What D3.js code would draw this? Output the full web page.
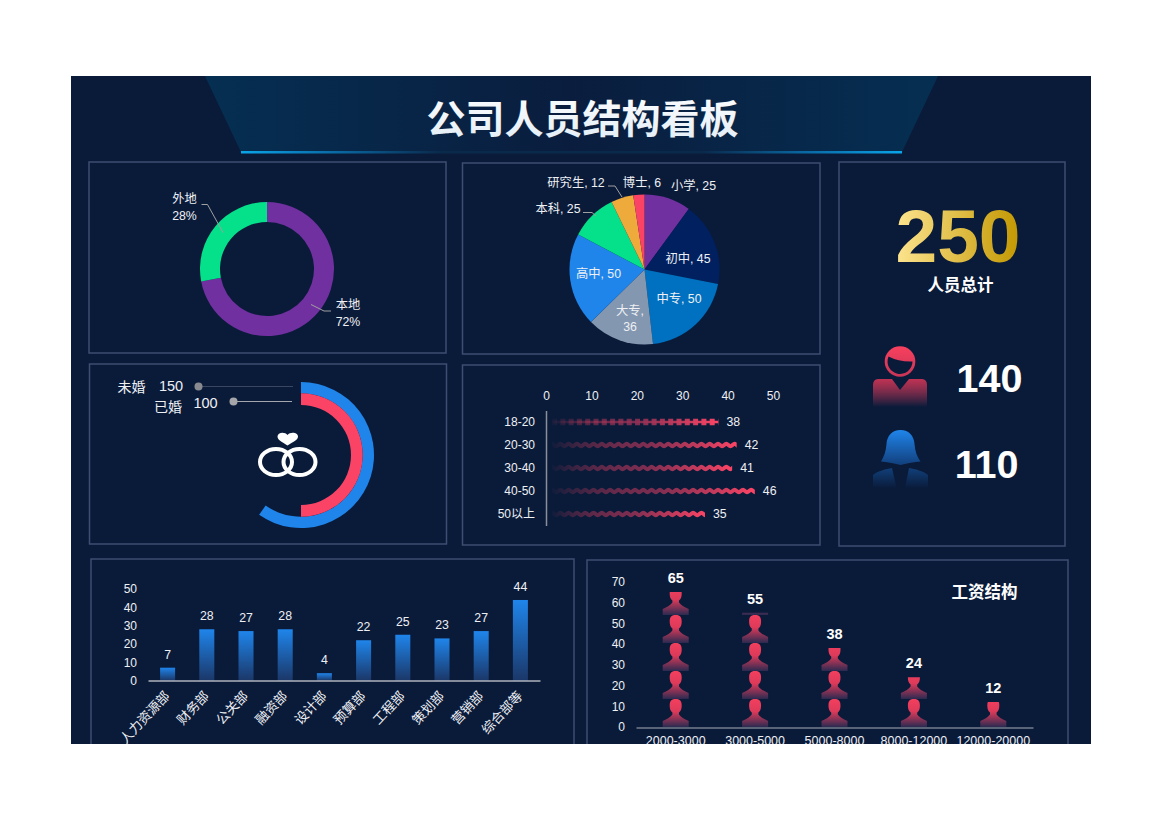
<!DOCTYPE html>
<html>
<head>
<meta charset="utf-8">
<script src="https://cdn.jsdelivr.net/npm/d3@7"></script>
<style>
  html, body { margin: 0; padding: 0; background: #fff; }
  svg { display: block; }
  text { font-family: "Liberation Sans", "Noto Sans CJK SC", sans-serif; fill: #eef0f4; }
  .axis text { font-size: 12px; fill: #eef0f4; }
</style>
</head>
<body>
<div class="div-chart"></div>
<script>
// chart values
const originNames = ["本地", "外地"];
const originValues = [72, 28];

const eduNames = ["小学", "初中", "中专", "大专", "高中", "本科", "研究生", "博士"];
const eduValues = [25, 45, 50, 36, 50, 25, 12, 6];
const eduColors = ["#7030a0", "#002060", "#0070c0", "#8497b0", "#1f85eb", "#05e08a", "#eeab3c", "#fb4465"];

const marriageNames = ["未婚", "已婚"];
const marriageValues = [150, 100];

const ageNames = ["18-20", "20-30", "30-40", "40-50", "50以上"];
const ageValues = [38, 42, 41, 46, 35];

const totalPeople = 250;
const maleCount = 140;
const femaleCount = 110;

const deptNames = ["人力资源部", "财务部", "公关部", "融资部", "设计部", "预算部", "工程部", "策划部", "营销部", "综合部等"];
const deptValues = [7, 28, 27, 28, 4, 22, 25, 23, 27, 44];

const salaryNames = ["2000-3000", "3000-5000", "5000-8000", "8000-12000", "12000-20000"];
const salaryValues = [65, 55, 38, 24, 12];

const width = 1170,
  height = 827;

const svg = d3
  .select(".div-chart")
  .append("svg")
  .attr("width", width)
  .attr("height", height)
  .attr("viewBox", `0 0 ${width} ${height}`);

const defs = svg.append("defs");

function linearGradient(id, x1, y1, x2, y2, stops, userSpace) {
  const g = defs
    .append("linearGradient")
    .attr("id", id)
    .attr("x1", x1)
    .attr("y1", y1)
    .attr("x2", x2)
    .attr("y2", y2);
  if (userSpace) g.attr("gradientUnits", "userSpaceOnUse");
  stops.forEach((s) => {
    g.append("stop")
      .attr("offset", s[0])
      .attr("stop-color", s[1])
      .attr("stop-opacity", s[2] === undefined ? 1 : s[2]);
  });
}

linearGradient("banner-grad", 0, 0, 1, 0, [[0, "#052f52"], [0.5, "#0a1d3e"], [1, "#052f52"]]);
linearGradient("banner-line", 0, 0, 1, 0, [[0, "#0aa5ea"], [0.14, "#0a6ba6"], [0.3, "#0a2a4c"], [0.7, "#0a2a4c"], [0.86, "#0a6ba6"], [1, "#0aa5ea"]]);
linearGradient("title-grad", 0, 0, 0, 1, [[0, "#ffffff"], [1, "#e2edf6"]]);
linearGradient("gold-grad", 0, 0, 1, 0, [[0, "#fde48f"], [1, "#c29700"]]);
linearGradient("man-body", 0, 0, 0, 1, [[0, "#bf3253"], [1, "#f43f5e", 0]]);
linearGradient("man-head", 0, 0, 0, 1, [[0, "#f8405f"], [1, "#c93556"]]);
linearGradient("woman-hair", 0, 0, 0, 1, [[0, "#1f85eb"], [1, "#123f7c"]]);
linearGradient("woman-body", 0, 0, 0, 1, [[0, "#11407a"], [1, "#11407a", 0]]);
linearGradient("dept-bar", 0, 0, 0, 1, [[0, "#1f85eb"], [1, "#1b3768"]]);
linearGradient("person-grad", 0, 0, 0, 1, [[0, "#f43f5e"], [0.45, "#dd3a5a"], [1, "#2c2a50"]]);

defs
  .append("clipPath")
  .attr("id", "board-clip")
  .append("rect")
  .attr("x", 71)
  .attr("y", 76)
  .attr("width", 1020)
  .attr("height", 668);

const board = svg.append("g").attr("clip-path", "url(#board-clip)");

board
  .append("rect")
  .attr("x", 71)
  .attr("y", 76)
  .attr("width", 1020)
  .attr("height", 668)
  .attr("fill", "#0a1b3a");

// header
board
  .append("path")
  .attr("d", "M205,76 L938,76 L902,152 L241,152 Z")
  .attr("fill", "url(#banner-grad)");
board
  .append("rect")
  .attr("x", 241)
  .attr("y", 151)
  .attr("width", 661)
  .attr("height", 2.5)
  .attr("fill", "url(#banner-line)");
board
  .append("text")
  .attr("x", 582.5)
  .attr("y", 133)
  .attr("text-anchor", "middle")
  .style("font-family", '"Noto Sans CJK SC", sans-serif')
  .style("font-weight", 700)
  .style("font-size", "39px")
  .style("fill", "url(#title-grad)")
  .text("公司人员结构看板");

// panel frames
const panels = [
  [89, 162, 357, 191],
  [462.5, 163, 357.5, 191],
  [89.5, 364, 357, 180],
  [462.5, 365, 357.5, 180],
  [839, 162, 226, 384],
  [91, 559, 483, 200],
  [587, 560, 481, 200],
];
board
  .append("g")
  .selectAll("rect")
  .data(panels)
  .join("rect")
  .attr("x", (d) => d[0])
  .attr("y", (d) => d[1])
  .attr("width", (d) => d[2])
  .attr("height", (d) => d[3])
  .attr("fill", "none")
  .attr("stroke", "#3d4e70")
  .attr("stroke-width", 1.5);

function leader(points) {
  board
    .append("path")
    .attr("d", d3.line()(points))
    .attr("fill", "none")
    .attr("stroke", "#a0a0a0")
    .attr("stroke-width", 1);
}

function label(x, y, txt, size, anchor) {
  return board
    .append("text")
    .attr("x", x)
    .attr("y", y)
    .attr("text-anchor", anchor || "middle")
    .attr("dominant-baseline", "central")
    .style("font-size", (size || 12) + "px")
    .text(txt);
}

// origin donut
const originG = board.append("g").attr("transform", "translate(267,269)");
const originPie = d3.pie().sort(null)(originValues);
const originColors = ["#7030a0", "#05e08a"];
originG
  .selectAll("path")
  .data(originPie)
  .join("path")
  .attr("d", d3.arc().innerRadius(47).outerRadius(67))
  .attr("fill", (d, i) => originColors[i]);

leader([[201.5, 204.5], [207.5, 204.5], [223, 232.5]]);
leader([[311, 304.5], [324, 311], [331, 311]]);
label(184.5, 199, originNames[1], 12.3);
label(184.5, 216, originValues[1] + "%", 12.3);
label(348, 305, originNames[0], 12.3);
label(348, 322, originValues[0] + "%", 12.3);

// education pie
const eduG = board.append("g").attr("transform", "translate(644.5,269.5)");
const eduPie = d3.pie().sort(null)(eduValues);
eduG
  .selectAll("path")
  .data(eduPie)
  .join("path")
  .attr("d", d3.arc().innerRadius(0).outerRadius(75))
  .attr("fill", (d, i) => eduColors[i]);

leader([[583, 212.5], [592, 212.5], [596, 216]]);
leader([[608, 186], [615, 186], [622, 197]]);
const eduLabelPos = [
  [693.5, 186],
  [688, 259],
  [679, 299],
  [630, 311],
  [598.5, 274],
  [558, 209],
  [576, 183],
  [642, 183],
];
eduNames.forEach((n, i) => {
  if (n === "大专") {
    label(eduLabelPos[i][0], eduLabelPos[i][1], `${n},`, 12.3);
    label(eduLabelPos[i][0], eduLabelPos[i][1] + 16, eduValues[i], 12.3);
  } else {
    label(eduLabelPos[i][0], eduLabelPos[i][1], `${n}, ${eduValues[i]}`, 12.3);
  }
});

// marriage radial
const marriageAngle = d3.scaleLinear().domain([100, 150]).range([180, 215]);
const ringColors = ["#1f85eb", "#fb4465"];
const ringRadius = [[61.7, 73], [50, 61.7]];
const marriageG = board.append("g").attr("transform", "translate(301,455)");
marriageG
  .selectAll("path")
  .data(marriageValues)
  .join("path")
  .attr("d", (d, i) =>
    d3.arc()({
      innerRadius: ringRadius[i][0],
      outerRadius: ringRadius[i][1],
      startAngle: 0,
      endAngle: (marriageAngle(d) * Math.PI) / 180,
    })
  )
  .attr("fill", (d, i) => ringColors[i]);

board
  .append("line")
  .attr("x1", 198)
  .attr("x2", 293)
  .attr("y1", 386.5)
  .attr("y2", 386.5)
  .attr("stroke", "#3b4661")
  .attr("stroke-width", 1.2);
board
  .append("line")
  .attr("x1", 233.5)
  .attr("x2", 292)
  .attr("y1", 401.5)
  .attr("y2", 401.5)
  .attr("stroke", "#a3a6ad")
  .attr("stroke-width", 1);
board.append("circle").attr("cx", 198.5).attr("cy", 386.5).attr("r", 4).attr("fill", "#8a8b90");
board.append("circle").attr("cx", 233.5).attr("cy", 401.5).attr("r", 4).attr("fill", "#a5a6aa");
label(131.5, 387, marriageNames[0], 14);
label(171, 386, marriageValues[0], 14.5);
label(168, 406.5, marriageNames[1], 14);
label(205.5, 403, marriageValues[1], 14.5);

// rings + heart
board
  .append("g")
  .selectAll("ellipse")
  .data([276, 299.5])
  .join("ellipse")
  .attr("cx", (d) => d)
  .attr("cy", 462)
  .attr("rx", 16)
  .attr("ry", 13)
  .attr("fill", "none")
  .attr("stroke", "#fff")
  .attr("stroke-width", 4);
board
  .append("path")
  .attr("d", "M287.5,445.5 C282,442 277.5,440 277.5,436.5 C277.5,432 285,431.5 287.5,435 C290,431.5 298,432 298,436.5 C298,440 293,442 287.5,445.5 Z")
  .attr("fill", "#fff");

// age bars
const ageX = d3.scaleLinear().domain([0, 50]).range([546, 773]);
const ageY = d3.scaleBand().domain(ageNames).range([410.5, 525.5]);

const ageTop = board
  .append("g")
  .attr("class", "axis")
  .attr("transform", "translate(0,400)")
  .call(d3.axisTop(ageX).tickValues([0, 10, 20, 30, 40, 50]).tickSize(0).tickPadding(0));
ageTop.select(".domain").remove();

const ageLeft = board
  .append("g")
  .attr("class", "axis")
  .attr("transform", "translate(546,0)")
  .call(d3.axisLeft(ageY).tickSize(0).tickPadding(11));
ageLeft.select(".domain").attr("stroke", "#8a8f9a").attr("stroke-width", 1.5);

const wavePeriod = 8.3;
ageValues.forEach((v, i) => {
  const cy = ageY(ageNames[i]) + ageY.bandwidth() / 2;
  const x0 = ageX(0) + 6;
  const x1 = ageX(v);
  const gid = `age-grad-${i}`;
  linearGradient(gid, x0, 0, x1, 0, [[0, "#f43f5e", 0.03], [0.5, "#8e3054", 0.85], [1, "#fb4465"]], true);
  defs
    .append("clipPath")
    .attr("id", `age-clip-${i}`)
    .append("rect")
    .attr("x", x0)
    .attr("y", cy - 6)
    .attr("width", x1 - x0)
    .attr("height", 12);

  const g = board.append("g").attr("clip-path", `url(#age-clip-${i})`);
  if (i === 0) {
    // first row is a beaded line
    g.append("line")
      .attr("x1", x0)
      .attr("x2", x1)
      .attr("y1", cy)
      .attr("y2", cy)
      .attr("stroke", `url(#${gid})`)
      .attr("stroke-width", 2.5);
    g.append("line")
      .attr("x1", x0)
      .attr("x2", x1)
      .attr("y1", cy)
      .attr("y2", cy)
      .attr("stroke", `url(#${gid})`)
      .attr("stroke-width", 6.5)
      .attr("stroke-dasharray", `5 ${wavePeriod - 5}`);
  } else {
    const pts = [];
    for (let x = x0 - wavePeriod; x <= x1 + wavePeriod; x += wavePeriod / 2) {
      const step = Math.round((x - x0) / (wavePeriod / 2));
      pts.push([x, cy + (step % 2 === 0 ? -1.3 : 1.3)]);
    }
    g.append("path")
      .attr("d", d3.line().curve(d3.curveCatmullRom)(pts))
      .attr("fill", "none")
      .attr("stroke", `url(#${gid})`)
      .attr("stroke-width", 3.8);
  }
  label(x1 + 8, cy, v, 12.3, "start");
});

// totals
board
  .append("text")
  .attr("x", 958)
  .attr("y", 262)
  .attr("text-anchor", "middle")
  .style("font-size", "75px")
  .style("font-weight", 700)
  .style("fill", "url(#gold-grad)")
  .text(totalPeople);
label(960.5, 284.5, "人员总计", 16.5).style("font-weight", 700).style("fill", "#fff");

board
  .append("text")
  .attr("x", 989.5)
  .attr("y", 392)
  .attr("text-anchor", "middle")
  .style("font-size", "39.5px")
  .style("font-weight", 700)
  .style("fill", "#fff")
  .text(maleCount);
board
  .append("text")
  .attr("x", 986.5)
  .attr("y", 477.5)
  .attr("text-anchor", "middle")
  .style("font-size", "39.5px")
  .style("font-weight", 700)
  .style("fill", "#fff")
  .text(femaleCount);

// man icon
board.append("circle").attr("cx", 900).attr("cy", 361.5).attr("r", 15.3).attr("fill", "url(#man-head)");
board
  .append("path")
  .attr("d", "M888.5,356.5 Q899,362 912.5,361.5 A12.5,12.5 0 1 1 888.5,356.5 Z")
  .attr("fill", "#0a1b3a");
board
  .append("path")
  .attr("d", "M878,379 L892,379 L900,390 L909,379 L922,379 Q927,379.5 927,385 L927,407 L873,407 L873,385 Q873,379.5 878,379 Z")
  .attr("fill", "url(#man-body)");

// woman icon
board
  .append("path")
  .attr("d", "M900.5,430 C892,430 887,436 886.5,444 C886,451 884,457 881,461.5 C887,462 893,463 900.5,465 C908,463 914,462 920.5,461.5 C917,457 915,451 914.5,444 C914,436 909,430 900.5,430 Z")
  .attr("fill", "url(#woman-hair)");
board
  .append("path")
  .attr("d", "M873,475 C878,471 886,469 892,468 L896.5,488 L873,488 Z M909,468 C915,469 923,471 928,475 L928,488 L905,488 Z")
  .attr("fill", "url(#woman-body)");

// department bars
const deptX = d3
  .scaleBand()
  .domain(deptNames)
  .range([148, 540])
  .paddingInner(0.617)
  .paddingOuter(0.3085);
const deptY = d3.scaleLinear().domain([0, 50]).range([680.5, 589]);

board
  .append("g")
  .selectAll("rect")
  .data(deptValues)
  .join("rect")
  .attr("x", (d, i) => deptX(deptNames[i]))
  .attr("y", (d) => deptY(d))
  .attr("width", deptX.bandwidth())
  .attr("height", (d) => deptY(0) - deptY(d))
  .attr("fill", "url(#dept-bar)");

const deptLeft = board
  .append("g")
  .attr("class", "axis")
  .attr("transform", "translate(148,0)")
  .call(d3.axisLeft(deptY).ticks(5).tickSize(0).tickPadding(11));
deptLeft.select(".domain").remove();

const deptBottom = board
  .append("g")
  .attr("class", "axis")
  .attr("transform", "translate(0,680.5)")
  .call(d3.axisBottom(deptX).tickSize(0).tickPadding(0));
deptBottom.select(".domain").attr("stroke", "#fff").attr("stroke-width", 1);
deptBottom
  .selectAll("text")
  .attr("text-anchor", "end")
  .attr("dy", 0)
  .attr("transform", "translate(3,16) rotate(-47)")
  .style("font-size", "13.2px");

deptValues.forEach((v, i) => {
  label(deptX(deptNames[i]) + deptX.bandwidth() / 2, deptY(v) - 13, v, 12.3);
});

// salary pictorial bars
const salaryX = d3.scaleBand().domain(salaryNames).range([636, 1033]);
const salaryY = d3.scaleLinear().domain([0, 70]).range([727, 581.7]);
const personH = 28,
  personW = 26;

defs
  .append("path")
  .attr("id", "person")
  .attr("d", "M13,0 C17.8,0 19,2.5 19,6.5 C19,10 18.2,12 16.3,13.5 L16.3,15.5 C18,18 21.5,20 26,22 L26,28 L0,28 L0,22 C4.5,20 8,18 9.7,15.5 L9.7,13.5 C7.8,12 7,10 7,6.5 C7,2.5 8.2,0 13,0 Z")
  .attr("fill", "url(#person-grad)");

salaryValues.forEach((v, i) => {
  const cx = salaryX(salaryNames[i]) + salaryX.bandwidth() / 2;
  const top = salaryY(v);
  const base = salaryY(0);
  defs
    .append("clipPath")
    .attr("id", `salary-clip-${i}`)
    .append("rect")
    .attr("x", cx - 20)
    .attr("y", top)
    .attr("width", 40)
    .attr("height", base - top);
  board
    .append("g")
    .attr("clip-path", `url(#salary-clip-${i})`)
    .selectAll("use")
    .data(d3.range(Math.ceil((base - top) / personH)))
    .join("use")
    .attr("href", "#person")
    .attr("x", cx - personW / 2)
    .attr("y", (r) => base - personH * (r + 1));
  label(cx, top - 14, v, 14.5).style("font-weight", 700).style("fill", "#fff");
});

const salaryLeft = board
  .append("g")
  .attr("class", "axis")
  .attr("transform", "translate(636,0)")
  .call(d3.axisLeft(salaryY).ticks(7).tickSize(0).tickPadding(11));
salaryLeft.select(".domain").remove();

const salaryBottom = board
  .append("g")
  .attr("class", "axis")
  .attr("transform", "translate(0,727.5)")
  .call(d3.axisBottom(salaryX).tickSize(0).tickPadding(9));
salaryBottom.select(".domain").attr("stroke", "#a9adb8").attr("stroke-width", 1.2);
salaryBottom.selectAll("text").style("font-size", "12.5px");

label(984.5, 591.5, "工资结构", 16.5).style("font-weight", 700).style("fill", "#fff");
</script>
</body>
</html>
